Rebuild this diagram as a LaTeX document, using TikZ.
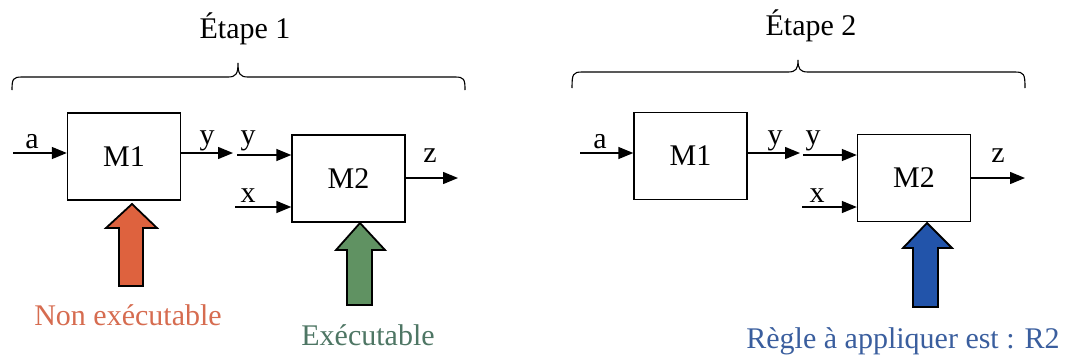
\documentclass[tikz,border=0pt]{standalone}
\usepackage{fontspec}
\setmainfont{Liberation Serif}
\usetikzlibrary{arrows.meta}
\definecolor{nonexec}{RGB}{222,98,62}
\definecolor{nonexectxt}{RGB}{214,108,80}
\definecolor{exec}{RGB}{96,146,98}
\definecolor{exectxt}{RGB}{78,118,100}
\definecolor{rule}{RGB}{34,84,170}
\definecolor{ruletxt}{RGB}{58,94,158}
\begin{document}
\begin{tikzpicture}[x=1pt,y=-1pt,
  font=\fontsize{30}{35}\selectfont,
  block/.style={draw,line width=1.4pt,minimum width=113pt,minimum height=87pt,inner sep=0pt},
  sig/.style={line width=1.4pt,-{Triangle[length=15pt,width=12pt]}},
  lbl/.style={anchor=base,inner sep=0pt},
  brace/.style={line width=1.1pt},
  bigarrow/.style={draw=black,line width=1.8pt,line join=miter}]
\useasboundingbox (0,0) rectangle (1067,357);

% ---------------- Step 1 ----------------
\node[lbl] (t1) at (245,38) {Étape 1};
\draw[brace] (12,90) .. controls (12,79) and (13,77) .. (22,77) -- (228,77)
  .. controls (236,77) and (238,74) .. (238,63)
  .. controls (238,74) and (240,77) .. (248,77) -- (455,77)
  .. controls (464,77) and (465,79) .. (465,90);

\node[block] (m1a) at (124,156.5) {M1};
\node[block] (m2a) at (348.5,178.5) {M2};

\coordinate (ina) at (13,153);
\coordinate (outya) at (233,153);
\coordinate (inya) at (237,155);
\coordinate (inxa) at (235,207);
\coordinate (outza) at (458,178);
\draw[sig] (ina) -- (m1a.west |- ina);
\draw[sig] (m1a.east |- outya) -- (outya);
\draw[sig] (inya) -- (m2a.west |- inya);
\draw[sig] (inxa) -- (m2a.west |- inxa);
\draw[sig] (m2a.east |- outza) -- (outza);

\node[lbl] (la1) at (32,148) {a};
\node[lbl] (ly1) at (207,144) {y};
\node[lbl] (ly2) at (248,144) {y};
\node[lbl] (lx1) at (248,202) {x};
\node[lbl] (lz1) at (430,162) {z};

% status arrows
\filldraw[bigarrow,fill=nonexec] (132,204) -- (157,228) -- (143,228) -- (143,286)
  -- (119,286) -- (119,228) -- (106,228) -- cycle;
\filldraw[bigarrow,fill=exec] (360,223) -- (385,250) -- (372,250) -- (372,305)
  -- (347,305) -- (347,250) -- (336,250) -- cycle;

\node[lbl,text=nonexectxt] (s1) at (128,325) {Non exécutable};
\node[lbl,text=exectxt] (s2) at (368,345) {Exécutable};

% ---------------- Step 2 ----------------
\node[lbl] (t2) at (811,35) {Étape 2};
\draw[brace] (572,88) .. controls (572,74) and (573,72) .. (582,72) -- (788,72)
  .. controls (796,72) and (798,69) .. (798,60)
  .. controls (798,69) and (800,72) .. (808,72) -- (1015,72)
  .. controls (1024,72) and (1025,74) .. (1025,88);

\node[block] (m1b) at (690.5,156) {M1};
\node[block] (m2b) at (914,178) {M2};

\coordinate (inb) at (580,153);
\coordinate (outyb) at (800,153);
\coordinate (inyb) at (803,155);
\coordinate (inxb) at (802,207);
\coordinate (outzb) at (1025,178);
\draw[sig] (inb) -- (m1b.west |- inb);
\draw[sig] (m1b.east |- outyb) -- (outyb);
\draw[sig] (inyb) -- (m2b.west |- inyb);
\draw[sig] (inxb) -- (m2b.west |- inxb);
\draw[sig] (m2b.east |- outzb) -- (outzb);

\node[lbl] (la2) at (600,148) {a};
\node[lbl] (ly3) at (775,144) {y};
\node[lbl] (ly4) at (813,144) {y};
\node[lbl] (lx2) at (817,202) {x};
\node[lbl] (lz2) at (998,162) {z};

\filldraw[bigarrow,fill=rule] (927,223) -- (952,248) -- (938,248) -- (938,307)
  -- (913,307) -- (913,248) -- (903,248) -- cycle;

\node[lbl,text=ruletxt] (s3) at (903,348) {Règle à appliquer est : R2};
\end{tikzpicture}
\end{document}
